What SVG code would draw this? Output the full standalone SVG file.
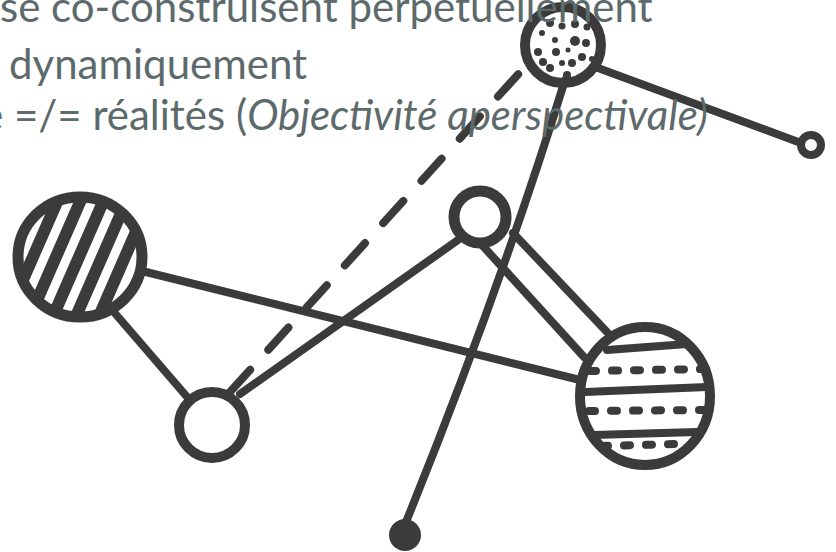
<svg xmlns="http://www.w3.org/2000/svg" width="836" height="552" viewBox="0 0 836 552">
<style>
.ink{fill:none;stroke:#3b3b3b;stroke-linecap:round;stroke-linejoin:round}
.ring{stroke-width:10}
.edge{stroke-width:8}
.dot{fill:#3b3b3b}
.txt{font-family:Lato,"Noto Sans",sans-serif;font-size:42px;fill:#5d6a6c}
</style>
<defs>
<clipPath id="clipH"><ellipse cx="80" cy="257" rx="60" ry="58"/></clipPath>
</defs>
<rect width="836" height="552" fill="#ffffff"/>
<g id="connectors" class="ink edge">
<line x1="146" y1="272" x2="580" y2="380"/>
<line x1="113" y1="311" x2="188" y2="398"/>
<line x1="240" y1="394" x2="458" y2="240"/>
<line x1="230" y1="392" x2="522" y2="70" stroke-dasharray="30 27"/>
<path d="M565,80 Q500,290 406,522"/>
<line x1="513" y1="233" x2="607" y2="332"/>
<line x1="482" y1="245" x2="584" y2="357"/>
<line x1="598" y1="68" x2="801" y2="143"/>
</g>
<g id="node-hatched">
<g clip-path="url(#clipH)" class="ink" stroke-width="12" stroke-linecap="butt">
<line x1="-22" y1="330" x2="48" y2="170"/>
<line x1="1" y1="330" x2="71" y2="170"/>
<line x1="24" y1="330" x2="94" y2="170"/>
<line x1="47" y1="330" x2="117" y2="170"/>
<line x1="70" y1="330" x2="140" y2="170"/>
<line x1="93" y1="330" x2="163" y2="170"/>
<line x1="116" y1="330" x2="186" y2="170"/>
</g>
<ellipse class="ink" cx="80" cy="257" rx="62" ry="60" stroke-width="11"/>
</g>
<g id="node-bottomleft">
<circle class="ink ring" cx="212" cy="425" r="33"/>
</g>
<g id="node-middle">
<circle class="ink" cx="480" cy="217" r="26" stroke-width="11"/>
</g>
<g id="node-dotted">
<circle class="ink ring" cx="563" cy="45" r="38"/>
<g class="dot">
<circle cx="550" cy="23" r="4"/><circle cx="562" cy="26" r="3.5"/><circle cx="575" cy="24" r="4"/><circle cx="587" cy="27" r="3.5"/>
<circle cx="542" cy="33" r="3"/><circle cx="555" cy="40" r="3"/><circle cx="575" cy="41" r="5"/><circle cx="586" cy="43" r="4"/>
<circle cx="538" cy="52" r="4"/><circle cx="556" cy="52" r="4"/><circle cx="568" cy="50" r="2.5"/><circle cx="582" cy="57" r="4"/>
<circle cx="543" cy="62" r="4"/><circle cx="562" cy="63" r="3"/><circle cx="572" cy="63" r="4"/><circle cx="592" cy="59" r="3"/>
<circle cx="550" cy="68" r="4"/><circle cx="567" cy="75" r="4"/>
</g>
</g>
<g id="node-striped">
<g class="ink" stroke-width="8">
<line x1="607" y1="350" x2="687" y2="344"/>
<line x1="585" y1="392" x2="707" y2="387"/>
<line x1="594" y1="435" x2="697" y2="432"/>
</g>
<g class="ink" stroke-width="8" stroke-dasharray="6 16">
<line x1="590" y1="371" x2="706" y2="369"/>
<line x1="589" y1="411" x2="704" y2="410"/>
<line x1="602" y1="446" x2="675" y2="444"/>
</g>
<ellipse class="ink ring" cx="645" cy="396" rx="65" ry="69"/>
</g>
<g id="node-ring">
<circle class="ink" cx="811" cy="145" r="10" stroke-width="8"/>
</g>
<g id="node-dot">
<circle class="dot" cx="405" cy="535" r="16"/>
</g>
<g id="text" class="txt">
<text x="0" y="22">se co-construisent perpetuellement</text>
<text x="9" y="79">dynamiquement</text>
<text x="-19" y="130">e =/= réalités (<tspan font-style="italic">Objectivité aperspectivale)</tspan></text>
</g>
</svg>
